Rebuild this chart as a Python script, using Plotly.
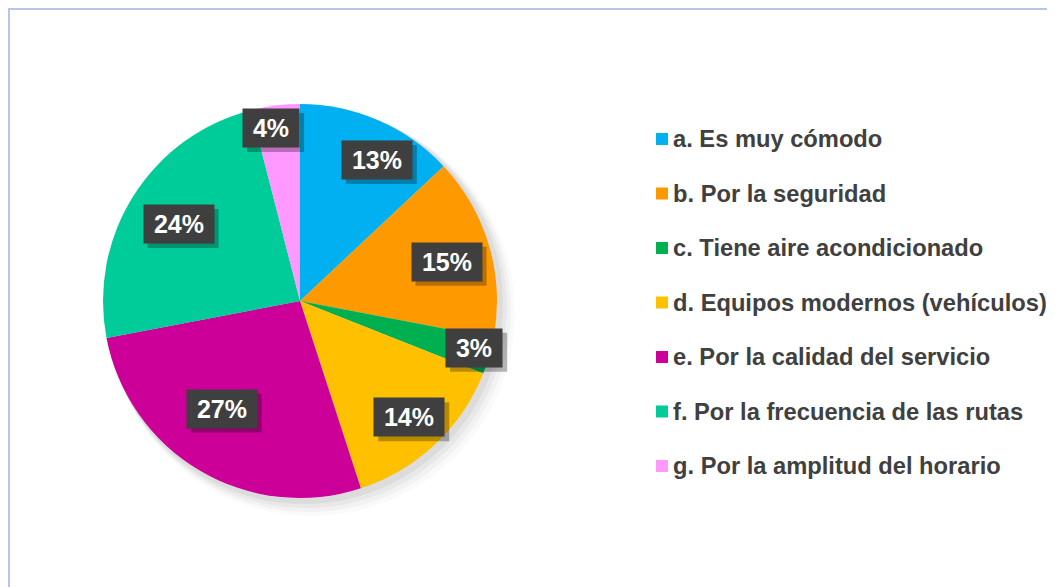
import math
import plotly.graph_objects as go

categories = [
    "a. Es muy cómodo",
    "b. Por la seguridad",
    "c. Tiene aire acondicionado",
    "d. Equipos modernos (vehículos)",
    "e. Por la calidad del servicio",
    "f. Por la frecuencia de las rutas",
    "g. Por la amplitud del horario",
]
values = [13, 15, 3, 14, 27, 24, 4]
colors = ["#00B0F0", "#FF9900", "#00B050", "#FFC000", "#CC0099", "#00CC99", "#FF99FF"]
# label placement style (fraction of radius, angular nudge in degrees)
label_radius = [0.815, 0.77, 0.915, 0.81, 0.675, 0.73, 0.89]
label_nudge = [5.2, 1.2, -1.2, 0.0, 5.4, 0.0, -2.3]

OFF = 8  # page body margin
W, H = 1055 - OFF, 587 - OFF
CX, CY, R = 300 - OFF, 301 - OFF, 197  # pixel geometry of the pie

FONT = "Liberation Sans, Arial"

fig = go.Figure()
fig.add_trace(go.Pie(
    labels=categories, values=values, sort=False, direction="clockwise", rotation=0,
    marker=dict(colors=colors, line=dict(width=0)),
    textinfo="none", hoverinfo="label+percent", showlegend=False,
    domain=dict(x=[(CX - R) / W, (CX + R) / W], y=[1 - (CY + R) / H, 1 - (CY - R) / H]),
))

shapes = []
# soft shadow under pie
for off, op in [(18, 0.02), (14, 0.03), (10, 0.04), (6, 0.05)]:
    shapes.append(dict(type="circle", xref="paper", yref="paper", layer="below",
                       x0=(CX - R + off * 0.3) / W, x1=(CX + R + off) / W,
                       y0=1 - (CY + R + off) / H, y1=1 - (CY - R + off * 0.3) / H,
                       fillcolor="rgba(0,0,0,%.3f)" % op, line=dict(width=0)))
# chart frame
shapes.append(dict(type="rect", xref="paper", yref="paper", x0=1 / W, x1=1.2, y0=-0.2, y1=1 - 1 / H,
                   line=dict(color="#B4C7E7", width=2), fillcolor="rgba(0,0,0,0)", layer="below"))

annotations = []
total = sum(values)
cum = 0
BOX_H = 38
for v, f, nd in zip(values, label_radius, label_nudge):
    mid = (cum + v / 2) / total * 2 * math.pi + math.radians(nd)
    cum += v
    px = CX + f * R * math.sin(mid)
    py = CY - f * R * math.cos(mid)
    txt = "%d%%" % round(v / total * 100)
    tw = (len(txt) - 1) * 13.9 + 22.2
    bw = tw + 20
    # drop shadow of the label box
    shapes.append(dict(type="rect", xref="paper", yref="paper",
                       x0=(px - bw / 2 + 4) / W, x1=(px + bw / 2 + 5) / W,
                       y0=1 - (py + BOX_H / 2 + 5) / H, y1=1 - (py - BOX_H / 2 + 4) / H,
                       fillcolor="rgba(0,0,0,0.28)", line=dict(width=0)))
    annotations.append(dict(x=px / W, y=1 - py / H, xref="paper", yref="paper",
                            text="<b>%s</b>" % txt, showarrow=False,
                            width=bw - 6, height=BOX_H - 6, align="center", valign="middle",
                            font=dict(family=FONT, size=25, color="white"),
                            bgcolor="#3F3F3F", borderpad=3, xanchor="center", yanchor="middle"))

# legend
LX, LY0, LDY = 656 - OFF, 139 - OFF, 54.5
for i, (cat, col) in enumerate(zip(categories, colors)):
    y = LY0 + i * LDY
    shapes.append(dict(type="rect", xref="paper", yref="paper",
                       x0=LX / W, x1=(LX + 12) / W, y0=1 - (y + 6) / H, y1=1 - (y - 6) / H,
                       fillcolor=col, line=dict(width=0)))
    annotations.append(dict(x=(LX + 15) / W, y=1 - y / H, xref="paper", yref="paper",
                            text="<b>%s</b>" % cat, showarrow=False, xanchor="left", yanchor="middle",
                            font=dict(family=FONT, size=23.7, color="#404040")))

fig.update_layout(width=W, height=H, margin=dict(l=0, r=0, t=0, b=0),
                  paper_bgcolor="white", plot_bgcolor="white",
                  shapes=shapes, annotations=annotations)
fig.write_html("out.html")
